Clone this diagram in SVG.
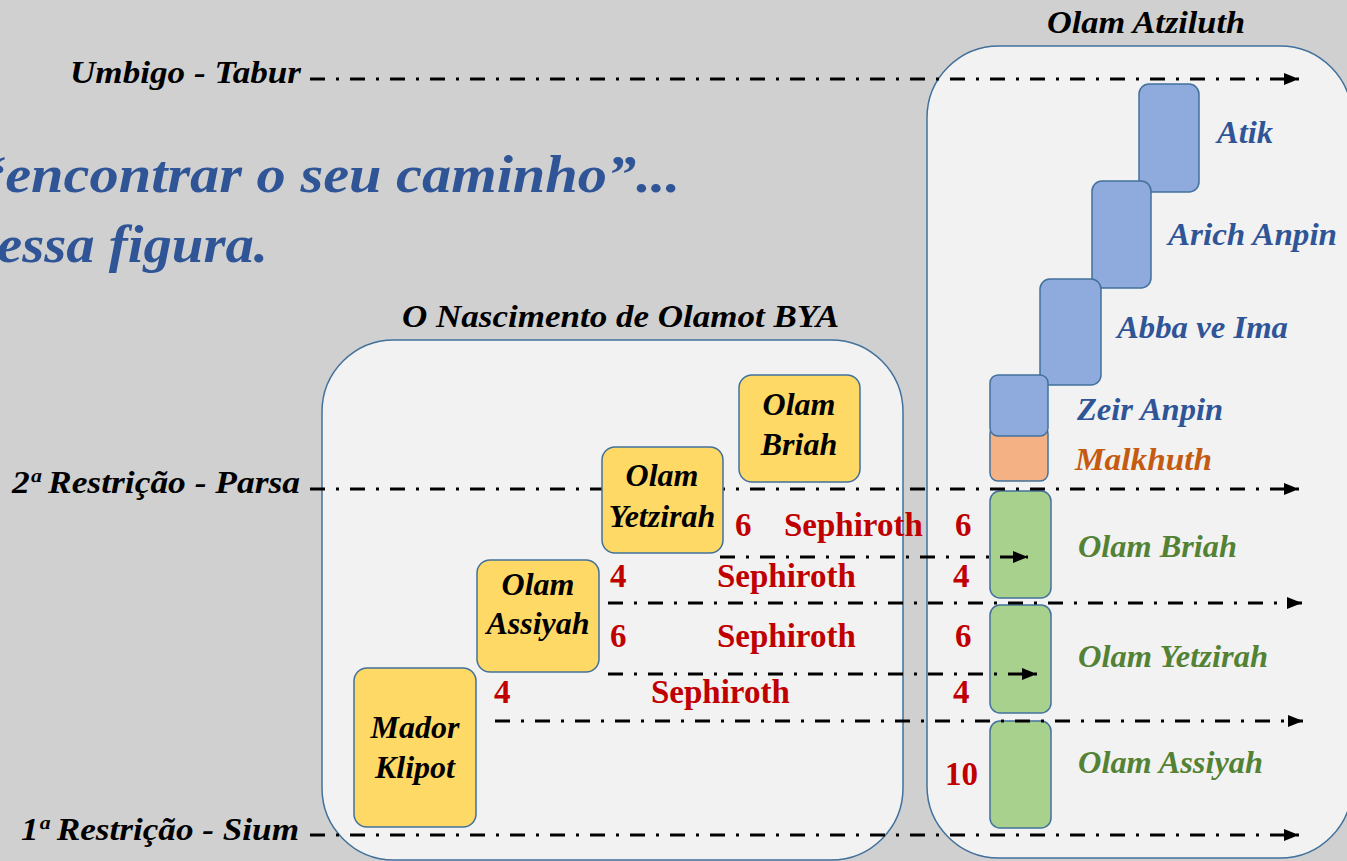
<svg xmlns="http://www.w3.org/2000/svg" width="1347" height="861" viewBox="0 0 1347 861">
<style>
.bg{fill:#d0d0d0}
.panel{fill:#f2f2f2;stroke:#41719c;stroke-width:1.5}
.box{stroke:#41719c;stroke-width:1.5}
.y{fill:#ffd966}
.b{fill:#8faadc}
.o{fill:#f4b183}
.g{fill:#a9d18e}
.lbl{font-family:"Liberation Serif","Times New Roman",serif;font-weight:bold;font-style:italic;font-size:31px}
.k{fill:#000}
.bl{fill:#2f5597}
.gr{fill:#548235}
.or{fill:#c55a11}
.in{font-size:32px;text-anchor:middle}
.red{font-family:"Liberation Serif","Times New Roman",serif;font-weight:bold;fill:#c00000;font-size:33px}
.conn{fill:none;stroke:#000;stroke-width:3;stroke-dasharray:15 11 3 11}
</style>
<defs>
<marker id="ah" markerUnits="userSpaceOnUse" markerWidth="15" markerHeight="12" viewBox="0 0 15 12" refX="15" refY="6" orient="auto"><path d="M0,0 L15,6 L0,12 Z" fill="#000"/></marker>
</defs>
<rect class="bg" x="0" y="0" width="1347" height="861"/>
<g id="headline">
<text class="lbl" x="-24" y="192" style="font-size:52px;fill:#2f5597" textLength="704" lengthAdjust="spacingAndGlyphs">“encontrar o seu caminho”...</text>
<text class="lbl" x="-3" y="262" style="font-size:52px;fill:#2f5597" textLength="271" lengthAdjust="spacingAndGlyphs">essa figura.</text>
</g>
<g id="panel-bya">
<rect class="panel" x="322" y="340" width="581" height="520" rx="72"/>
<text class="lbl k" x="402" y="327" textLength="437" lengthAdjust="spacingAndGlyphs">O Nascimento de Olamot BYA</text>
</g>
<g id="panel-atziluth">
<rect class="panel" x="927" y="46" width="425" height="812" rx="72"/>
<text class="lbl k" x="1047" y="33" textLength="198" lengthAdjust="spacingAndGlyphs">Olam Atziluth</text>
</g>
<g id="atik"><rect class="box b" x="1139" y="84" width="60" height="108" rx="10"/><text class="lbl bl" x="1217" y="143" textLength="56" lengthAdjust="spacingAndGlyphs">Atik</text></g>
<g id="arich-anpin"><rect class="box b" x="1092" y="181" width="59" height="107" rx="10"/><text class="lbl bl" x="1168" y="245" textLength="169" lengthAdjust="spacingAndGlyphs">Arich Anpin</text></g>
<g id="abba-ve-ima"><rect class="box b" x="1040" y="279" width="61" height="106" rx="10"/><text class="lbl bl" x="1117" y="338" textLength="171" lengthAdjust="spacingAndGlyphs">Abba ve Ima</text></g>
<g id="malkhuth"><rect class="box o" x="990" y="426" width="58" height="55" rx="8"/><text class="lbl or" x="1075" y="470" textLength="137" lengthAdjust="spacingAndGlyphs">Malkhuth</text></g>
<g id="zeir-anpin"><rect class="box b" x="990" y="375" width="58" height="61" rx="8"/><text class="lbl bl" x="1077" y="420" textLength="146" lengthAdjust="spacingAndGlyphs">Zeir Anpin</text></g>
<g id="olam-briah-atz"><rect class="box g" x="990" y="491" width="61" height="107" rx="10"/><text class="lbl gr" x="1078" y="557" textLength="159" lengthAdjust="spacingAndGlyphs">Olam Briah</text></g>
<g id="olam-yetzirah-atz"><rect class="box g" x="990" y="605" width="61" height="108" rx="10"/><text class="lbl gr" x="1078" y="667" textLength="190" lengthAdjust="spacingAndGlyphs">Olam Yetzirah</text></g>
<g id="olam-assiyah-atz"><rect class="box g" x="990" y="721" width="61" height="107" rx="10"/><text class="lbl gr" x="1078" y="773" textLength="185" lengthAdjust="spacingAndGlyphs">Olam Assiyah</text></g>
<g id="connectors">
<path class="conn" d="M310,79 H1299" marker-end="url(#ah)"/>
<path class="conn" d="M310,489 H1299" marker-end="url(#ah)"/>
<path class="conn" d="M720,557 H1028" marker-end="url(#ah)"/>
<path class="conn" d="M608,603 H1302" marker-end="url(#ah)"/>
<path class="conn" d="M608,674 H1037" marker-end="url(#ah)"/>
<path class="conn" d="M495,721 H1303" marker-end="url(#ah)"/>
<path class="conn" d="M310,835 H1299" marker-end="url(#ah)"/>
</g>
<g id="level-labels">
<text class="lbl k" x="70" y="83" textLength="231" lengthAdjust="spacingAndGlyphs">Umbigo - Tabur</text>
<text class="lbl k" x="12" y="493" textLength="288" lengthAdjust="spacingAndGlyphs">2ª Restrição - Parsa</text>
<text class="lbl k" x="21" y="840" textLength="278" lengthAdjust="spacingAndGlyphs">1ª Restrição - Sium</text>
</g>
<g id="olam-briah"><rect class="box y" x="739" y="375" width="121" height="107" rx="13"/><text class="lbl k in" x="799" y="415">Olam</text><text class="lbl k in" x="799" y="455">Briah</text></g>
<g id="olam-yetzirah"><rect class="box y" x="602" y="447" width="121" height="106" rx="13"/><text class="lbl k in" x="662" y="486">Olam</text><text class="lbl k in" x="662" y="527">Yetzirah</text></g>
<g id="olam-assiyah"><rect class="box y" x="477" y="560" width="122" height="112" rx="13"/><text class="lbl k in" x="538" y="595">Olam</text><text class="lbl k in" x="538" y="634">Assiyah</text></g>
<g id="mador-klipot"><rect class="box y" x="354" y="668" width="122" height="159" rx="13"/><text class="lbl k in" x="415" y="738">Mador</text><text class="lbl k in" x="415" y="778">Klipot</text></g>
<g id="sephiroth-labels">
<text class="red" x="735" y="536">6</text><text class="red" x="784" y="536">Sephiroth</text><text class="red" x="955" y="536">6</text>
<text class="red" x="610" y="587">4</text><text class="red" x="717" y="587">Sephiroth</text><text class="red" x="953" y="587">4</text>
<text class="red" x="610" y="647">6</text><text class="red" x="717" y="647">Sephiroth</text><text class="red" x="955" y="647">6</text>
<text class="red" x="494" y="703">4</text><text class="red" x="651" y="703">Sephiroth</text><text class="red" x="953" y="703">4</text>
<text class="red" x="945" y="785">10</text>
</g>
</svg>
